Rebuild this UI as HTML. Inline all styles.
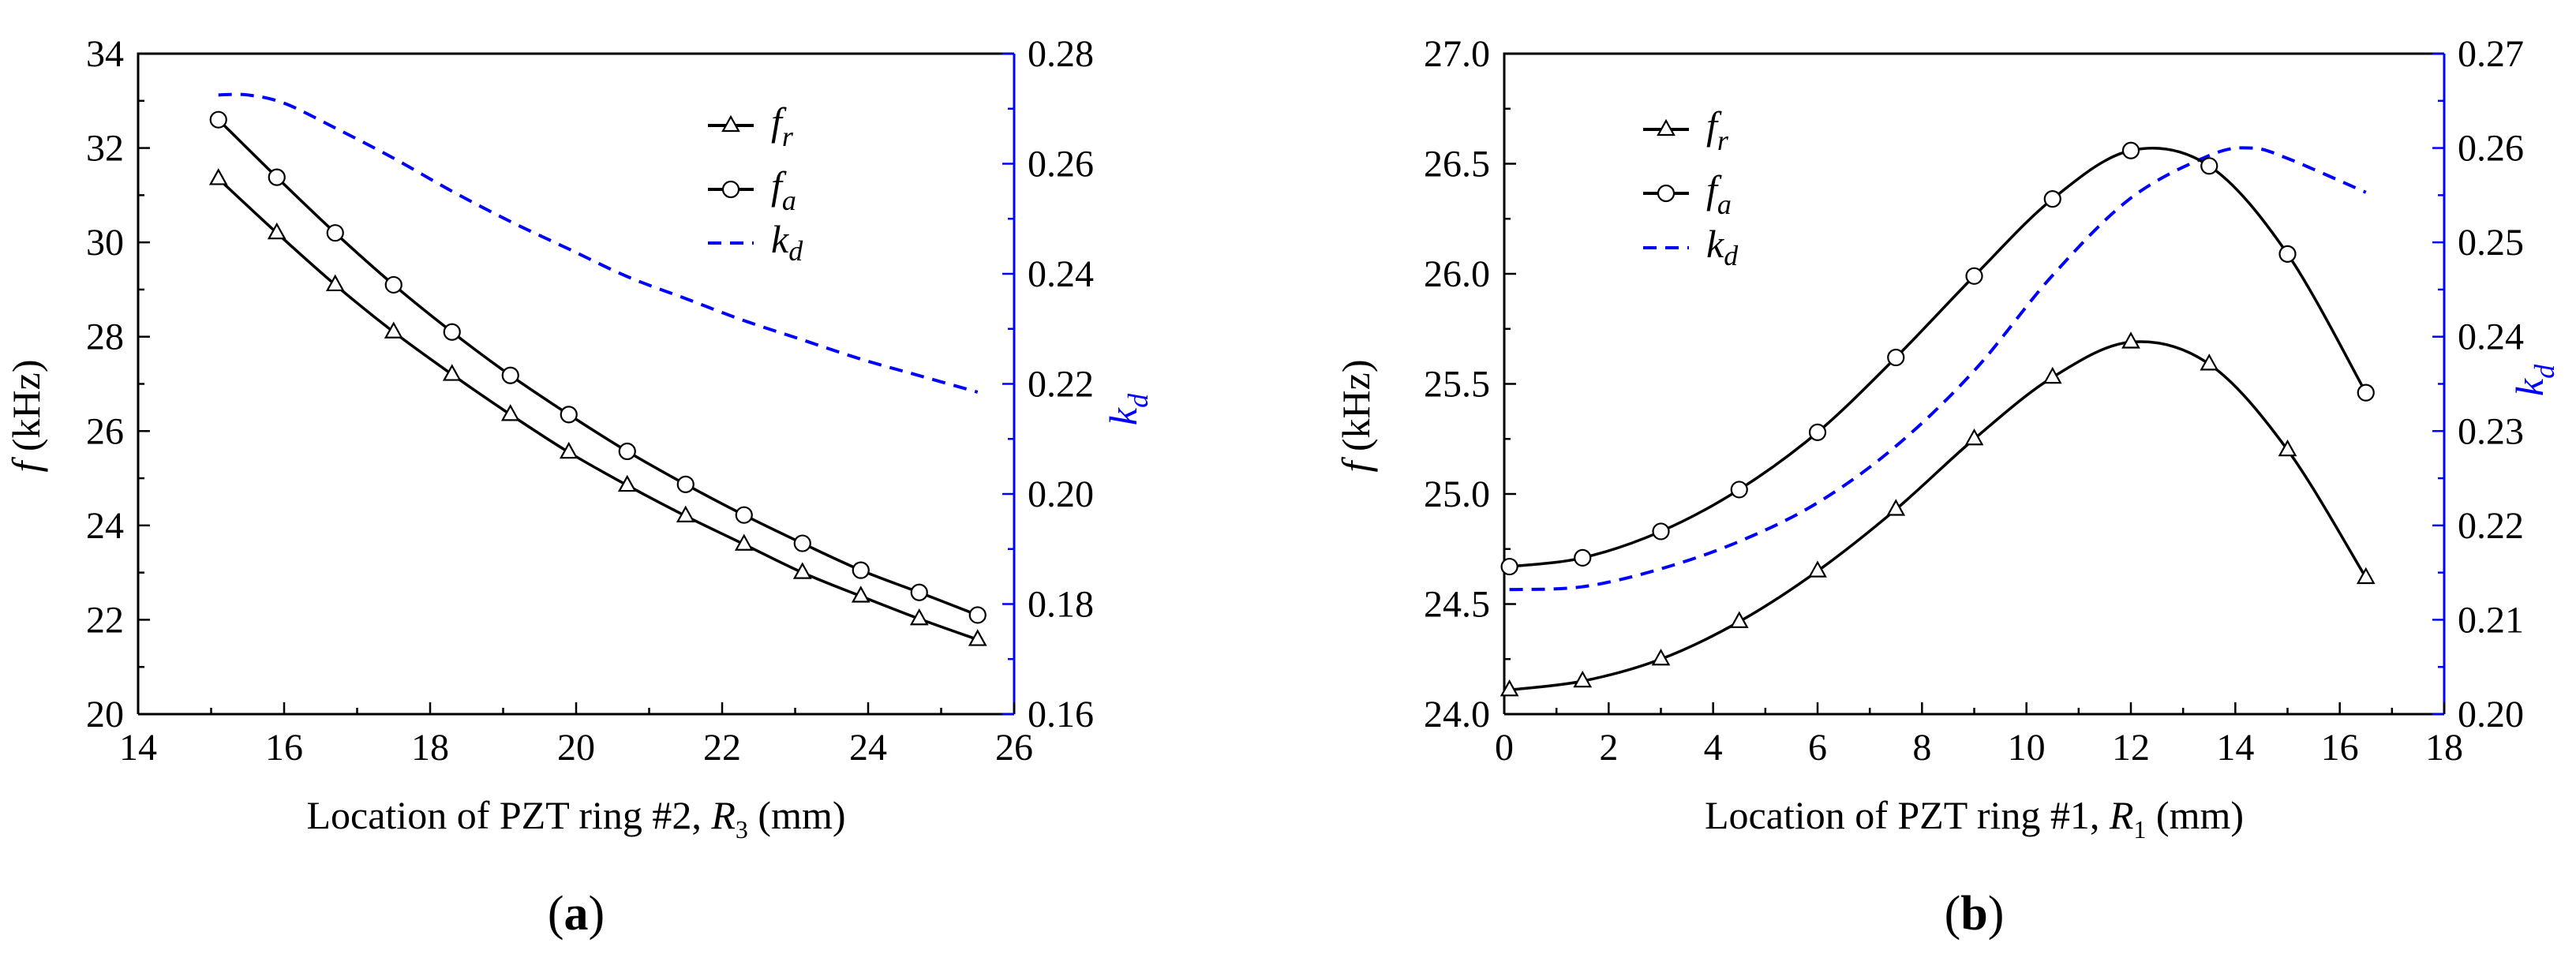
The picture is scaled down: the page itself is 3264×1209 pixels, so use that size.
<!DOCTYPE html>
<html><head><meta charset="utf-8"><style>
html,body{margin:0;padding:0;background:#fff}
svg{display:block}
svg text, svg tspan{font-family:"Liberation Serif","DejaVu Serif",serif}
</style></head><body>
<svg id="c" width="3264" height="1209" xmlns="http://www.w3.org/2000/svg" font-family="Liberation Serif, serif"></svg>
<script>
const aX=[15.1,15.9,16.7,17.5,18.3,19.1,19.9,20.7,21.5,22.3,23.1,23.9,24.7,25.5];
const aFr=[31.35,30.2,29.1,28.1,27.2,26.35,25.55,24.85,24.2,23.6,23.0,22.5,22.02,21.58];
const aFa=[32.6,31.38,30.2,29.1,28.1,27.18,26.35,25.57,24.87,24.22,23.62,23.05,22.58,22.1];
const aKx=[15.1,15.5,16,16.7,17.5,18.3,19.1,19.9,20.7,21.5,22.3,23.1,23.9,24.7,25.5];
const aKd=[0.2725,0.2725,0.271,0.2665,0.261,0.255,0.2495,0.2445,0.2395,0.2355,0.2315,0.228,0.2245,0.2215,0.2185];
const aXt=[14,16,18,20,22,24,26];
const aYt=[20,22,24,26,28,30,32,34];
const aY2t=[0.16,0.18,0.20,0.22,0.24,0.26,0.28];
const bX=[0.1,1.5,3,4.5,6,7.5,9,10.5,12,13.5,15,16.5];
const bFr=[24.11,24.15,24.25,24.42,24.65,24.93,25.25,25.53,25.69,25.59,25.2,24.62];
const bFa=[24.67,24.71,24.83,25.02,25.28,25.62,25.99,26.34,26.56,26.49,26.09,25.46];
const bKx=[0.1,1.5,3,4.5,6,7.5,9,10.5,12,13.5,14.3,15,16.5];
const bKd=[0.2132,0.2135,0.2154,0.2183,0.2224,0.2284,0.2364,0.2465,0.2547,0.2592,0.26,0.2589,0.2553];
const bXt=[0,2,4,6,8,10,12,14,16,18];
const bYt=[24.0,24.5,25.0,25.5,26.0,26.5,27.0];
const bY2t=[0.20,0.21,0.22,0.23,0.24,0.25,0.26,0.27];

const NS="http://www.w3.org/2000/svg";
const svg=document.getElementById('c');
const FF='"Liberation Serif", serif';
function mk(tag,attrs,parent,text){const e=document.createElementNS(NS,tag);for(const k in attrs)e.setAttribute(k,attrs[k]);if(tag==='text')e.style.fontFamily=FF;if(text!==undefined)e.textContent=text;(parent||svg).appendChild(e);return e;}
function spline(pts){let d=`M${pts[0][0]},${pts[0][1]}`;for(let i=0;i<pts.length-1;i++){const p0=pts[i-1]||pts[i],p1=pts[i],p2=pts[i+1],p3=pts[i+2]||p2;const c1=[p1[0]+(p2[0]-p0[0])/6,p1[1]+(p2[1]-p0[1])/6],c2=[p2[0]-(p3[0]-p1[0])/6,p2[1]-(p3[1]-p1[1])/6];d+=`C${c1[0]},${c1[1]} ${c2[0]},${c2[1]} ${p2[0]},${p2[1]}`;}return d;}
function tri(g,x,y){const e=mk('path',{d:`M${x},${y-11}L${x+10},${y+7}L${x-10},${y+7}Z`,fill:'#fff',stroke:'#000','stroke-width':2.2},g);}
function circ(g,x,y){const e=mk('circle',{cx:x,cy:y,r:10,fill:'#fff',stroke:'#000','stroke-width':2.2},g);}

function panel(o){
  const g=mk('g',{});
  const L=o.L,R=o.R,T=68,B=905;
  const sx=v=>L+(v-o.xmin)/(o.xmax-o.xmin)*(R-L);
  const sy=v=>B-(v-o.ymin)/(o.ymax-o.ymin)*(B-T);
  const sy2=v=>B-(v-o.y2min)/(o.y2max-o.y2min)*(B-T);
  mk('path',{d:`M${L},${B}L${L},${T}L${R},${T}`,fill:'none',stroke:'#000','stroke-width':3},g);
  mk('line',{x1:L,y1:B,x2:R,y2:B,stroke:'#000','stroke-width':3},g);
  mk('line',{x1:R,y1:T,x2:R,y2:B,stroke:'#00f','stroke-width':3},g);
  const xs=o.xt;const xstep=xs[1]-xs[0];
  xs.forEach((v,i)=>{const x=sx(v);mk('line',{x1:x,y1:B,x2:x,y2:B-15,stroke:'#000','stroke-width':2.5},g);
    const t=mk('text',{x:x,y:963,'font-size':48,'text-anchor':'middle'},g,String(v));
    if(i<xs.length-1){const m=sx(v+xstep/2);mk('line',{x1:m,y1:B,x2:m,y2:B-8,stroke:'#000','stroke-width':2.5},g);}});
  const ys=o.yt;const ystep=ys[1]-ys[0];
  ys.forEach((v,i)=>{const y=sy(v);mk('line',{x1:L,y1:y,x2:L+15,y2:y,stroke:'#000','stroke-width':2.5},g);
    const t=mk('text',{x:L-18,y:y+16,'font-size':48,'text-anchor':'end'},g,v.toFixed(o.yd));
    if(i<ys.length-1){const m=sy(v+ystep/2);mk('line',{x1:L,y1:m,x2:L+8,y2:m,stroke:'#000','stroke-width':2.5},g);}});
  const y2=o.y2t;const y2step=y2[1]-y2[0];
  y2.forEach((v,i)=>{const y=sy2(v);mk('line',{x1:R,y1:y,x2:R-15,y2:y,stroke:'#00f','stroke-width':2.5},g);
    const t=mk('text',{x:R+17,y:y+16,'font-size':48},g,v.toFixed(2));
    if(i<y2.length-1){const m=sy2(v+y2step/2);mk('line',{x1:R,y1:m,x2:R-8,y2:m,stroke:'#00f','stroke-width':2.5},g);}});
  const kd=mk('path',{d:spline(o.kx.map((v,i)=>[sx(v),sy2(o.kd[i])])),fill:'none',stroke:'#00f','stroke-width':4,'stroke-dasharray':'17 11'},g);
  
  const fr=mk('path',{d:spline(o.x.map((v,i)=>[sx(v),sy(o.fr[i])])),fill:'none',stroke:'#000','stroke-width':3.5},g);
  
  const fa=mk('path',{d:spline(o.x.map((v,i)=>[sx(v),sy(o.fa[i])])),fill:'none',stroke:'#000','stroke-width':3.5},g);
  
  o.x.forEach((v,i)=>{tri(g,sx(v),sy(o.fr[i]));circ(g,sx(v),sy(o.fa[i]));});
  const lg=mk('g',{},g);
  const lx=o.lx,ly=o.ly;
  mk('line',{x1:lx,y1:ly[0],x2:lx+58,y2:ly[0],stroke:'#000','stroke-width':4},lg);tri(lg,lx+29,ly[0]);
  mk('line',{x1:lx,y1:ly[1],x2:lx+58,y2:ly[1],stroke:'#000','stroke-width':4},lg);circ(lg,lx+29,ly[1]);
  mk('line',{x1:lx,y1:ly[2],x2:lx+58,y2:ly[2],stroke:'#00f','stroke-width':4,'stroke-dasharray':'17 11'},lg);
  const tx=lx+80;
  const t1=mk('text',{x:tx,y:ly[0]+12,'font-size':50,'font-style':'italic'},lg);t1.innerHTML='f<tspan font-size="36" dy="14">r</tspan>';
  const t2=mk('text',{x:tx,y:ly[1]+12,'font-size':50,'font-style':'italic'},lg);t2.innerHTML='f<tspan font-size="36" dy="14">a</tspan>';
  const t3=mk('text',{x:tx,y:ly[2]+12,'font-size':50,'font-style':'italic'},lg);t3.innerHTML='k<tspan font-size="36" dy="10">d</tspan>';
  const xt=mk('text',{x:(L+R)/2,y:1050,'font-size':50,'text-anchor':'middle'},g);
  xt.innerHTML=o.xtitle+' <tspan font-style="italic">R</tspan><tspan font-size="32" dy="12">'+o.sub+'</tspan><tspan dy="-12"> (mm)</tspan>';
  
  const yt=mk('text',{x:0,y:0,'font-size':50,'text-anchor':'middle',transform:`translate(${o.ylx},527) rotate(-90)`},g);
  yt.innerHTML='<tspan font-style="italic">f</tspan> (kHz)';
  const y2t=mk('text',{x:0,y:0,'font-size':50,'font-style':'italic',fill:'#00f','text-anchor':'middle',transform:`translate(${o.y2lx},${o.y2ly}) rotate(-90)`},g);
  y2t.innerHTML='k<tspan font-size="36" dy="14">d</tspan>';
  const cap=mk('text',{x:(L+R)/2,y:1178,'font-size':62,'text-anchor':'middle'},g);
  cap.innerHTML='(<tspan font-weight="bold">'+o.cap+'</tspan>)';
}
panel({name:'panel-a',L:175,R:1285,xmin:14,xmax:26,ymin:20,ymax:34,y2min:0.16,y2max:0.28,xt:aXt,yt:aYt,yd:0,y2t:aY2t,
  x:aX,fr:aFr,fa:aFa,kx:aKx,kd:aKd,lx:897,ly:[159,240,308],xtitle:'Location of PZT ring #2,',sub:'3',ylx:50,y2lx:1440,y2ly:519,cap:'a'});
panel({name:'panel-b',L:1906,R:3097,xmin:0,xmax:18,ymin:24,ymax:27,y2min:0.20,y2max:0.27,xt:bXt,yt:bYt,yd:1,y2t:bY2t,
  x:bX,fr:bFr,fa:bFa,kx:bKx,kd:bKd,lx:2082,ly:[164,245,314],xtitle:'Location of PZT ring #1,',sub:'1',ylx:1735,y2lx:3222,y2ly:482,cap:'b'});
</script>
</body></html>
